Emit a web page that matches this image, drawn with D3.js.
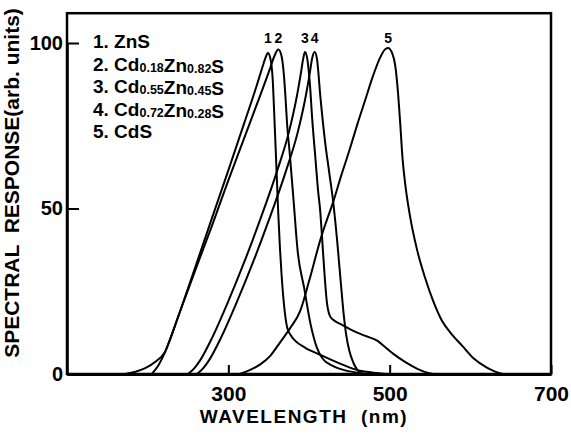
<!DOCTYPE html>
<html>
<head>
<meta charset="utf-8">
<script src="https://cdn.jsdelivr.net/npm/d3@7"></script>
<style>
  html, body { margin: 0; padding: 0; background: #fff; }
  svg { display: block; font-family: "Liberation Sans", Arial, sans-serif; font-weight: bold; }
</style>
</head>
<body>
<div id="chart"></div>
<script>
// [wavelength nm, spectral response arb. units]
const zns = [[172,0],[185,0.7],[197,1.8],[210,3.8],[221,6.5],[230,12],[240,18.8],[260,33],[280,47.3],[300,61.5],[320,76],[335,87],[342,92.5],[346,95.5],[349,97],[352,95.5],[355,89],[357,78],[360,60],[362,48],[364,38],[366,30],[369,21],[373,14],[378,11.5],[383,10],[395,8],[414,5.8],[440,3],[463,1],[480,0.4],[497,0]];
const cd18 = [[205,0],[213,2.5],[221,6.3],[240,18.8],[260,32],[280,45],[300,58.5],[320,71.5],[340,84.5],[352,92.5],[357,96],[362,98],[366,96],[369,90],[371,83],[373,75],[376,67],[381,52],[386,37],[394,26],[402,15],[410,7.8],[417,4.6],[430,2.4],[445,1.1],[463,0.3],[475,0]];
const cd55 = [[250,0],[258,1.8],[266,4.5],[280,11],[300,22],[320,34],[340,47],[360,61],[375,73],[385,84],[390,91],[393,95.5],[395,97.3],[398,95],[401,88],[404,77],[408,65],[411,56],[414,49],[416,42],[419,31],[422,22],[426,17.5],[432,16],[440,15],[455,13],[470,11.5],[485,10],[495,8],[505,6],[520,3.5],[535,1.5],[548,0.3],[554,0]];
const cd72 = [[261,0],[269,1.8],[277,4.5],[291,11],[311,22],[331,34],[351,47],[371,61],[386,73],[396,84],[401,91],[404,95.5],[407,97.3],[410,95],[414,84],[420,70],[425,61],[430,52],[435,40],[440,26],[443,18],[446,12],[450,7],[455,3.4],[460,1.2],[465,0]];
const cds = [[314,0],[325,1],[340,3],[352,5.5],[364,9.5],[377,14],[389,19],[400,28],[410,37],[414,40.5],[420,45],[430,52],[440,60],[450,67.5],[460,75.5],[470,83],[480,90.5],[488,95.5],[494,98],[498,98.5],[503,97],[507,93],[510,86],[513,76],[516,65],[520,56],[525,48],[534,37.5],[544,29],[554,22],[565,16],[577,12],[590,8.5],[605,4.5],[620,2],[630,0.8],[640,0]];

const curveIds = ['1', '2', '3', '4', '5'];
const xTicks = [300, 500, 700];
const yTicks = [0, 50, 100];

// legend lines as [text, subscript?] pieces
const legendLines = [
  [['1. ZnS', 0]],
  [['2. Cd', 0], ['0.18', 1], ['Zn', 0], ['0.82', 1], ['S', 0]],
  [['3. Cd', 0], ['0.55', 1], ['Zn', 0], ['0.45', 1], ['S', 0]],
  [['4. Cd', 0], ['0.72', 1], ['Zn', 0], ['0.28', 1], ['S', 0]],
  [['5. CdS', 0]]
];

const series = [zns, cd18, cd55, cd72, cds];

const width = 571, height = 438;

const x = d3.scaleLinear().domain([100, 700]).range([67, 551]);
const y = d3.scaleLinear().domain([0, 100]).range([374, 43]);
const yTop = 109;
const labelLevel = 100;

const svg = d3.select('#chart').append('svg')
  .attr('width', width)
  .attr('height', height);

// frame
svg.append('rect')
  .attr('x', x(100))
  .attr('y', y(yTop))
  .attr('width', x(700) - x(100))
  .attr('height', y(0) - y(yTop))
  .attr('fill', 'none')
  .attr('stroke', '#000')
  .attr('stroke-width', 2.5);

const xAxis = svg.append('g')
  .attr('transform', `translate(0,${y(0)})`)
  .call(d3.axisBottom(x).tickValues(xTicks).tickSizeInner(-9).tickSizeOuter(0).tickPadding(12));
xAxis.select('.domain').attr('stroke-width', 3);
xAxis.selectAll('.tick line').attr('stroke-width', 2);
xAxis.selectAll('text').attr('font-size', 21).attr('font-family', null).attr('fill', '#000');
xAxis.attr('font-family', null);

const yAxis = svg.append('g')
  .attr('transform', `translate(${x(100)},0)`)
  .call(d3.axisLeft(y).tickValues(yTicks).tickSizeInner(-12).tickSizeOuter(0).tickPadding(4));
yAxis.select('.domain').attr('stroke-width', 2.5);
yAxis.selectAll('.tick line').attr('stroke-width', 2);
yAxis.selectAll('text').attr('font-size', 20).attr('fill', '#000');
yAxis.attr('font-family', null);

// curves
const line = d3.line()
  .x(d => x(d[0]))
  .y(d => y(d[1]))
  .curve(d3.curveMonotoneX);

svg.append('g')
  .selectAll('path')
  .data(series)
  .enter()
  .append('path')
  .attr('d', line)
  .attr('fill', 'none')
  .attr('stroke', '#000')
  .attr('stroke-width', 2)
  .attr('stroke-linejoin', 'round');

// numbers over the peaks
svg.append('g')
  .selectAll('text')
  .data(series)
  .enter()
  .append('text')
  .attr('x', d => x(d3.greatest(d, p => p[1])[0]))
  .attr('y', y(labelLevel))
  .attr('text-anchor', 'middle')
  .attr('font-size', 14)
  .text((d, i) => curveIds[i]);

// legend
const legend = svg.append('g');
legendLines.forEach((parts, i) => {
  const t = legend.append('text')
    .attr('x', 93)
    .attr('y', 48 + i * 22.5)
    .attr('font-size', 19);
  parts.forEach(([s, sub]) => {
    t.append('tspan')
      .attr('font-size', sub ? 12.5 : 19)
      .attr('dy', sub ? 1 : 0)
      .text(s);
    if (sub) t.append('tspan').attr('dy', -1).text('');
  });
});

// axis titles
svg.append('text')
  .attr('transform', `translate(19,${183}) rotate(-90)`)
  .attr('text-anchor', 'middle')
  .attr('font-size', 21)
  .style('white-space', 'pre')
  .text('SPECTRAL  RESPONSE(arb. units)');

svg.append('text')
  .attr('x', 304)
  .attr('y', 423)
  .attr('text-anchor', 'middle')
  .attr('font-size', 19)
  .attr('letter-spacing', 1.5)
  .style('white-space', 'pre')
  .text('WAVELENGTH  (nm)');
</script>
</body>
</html>
